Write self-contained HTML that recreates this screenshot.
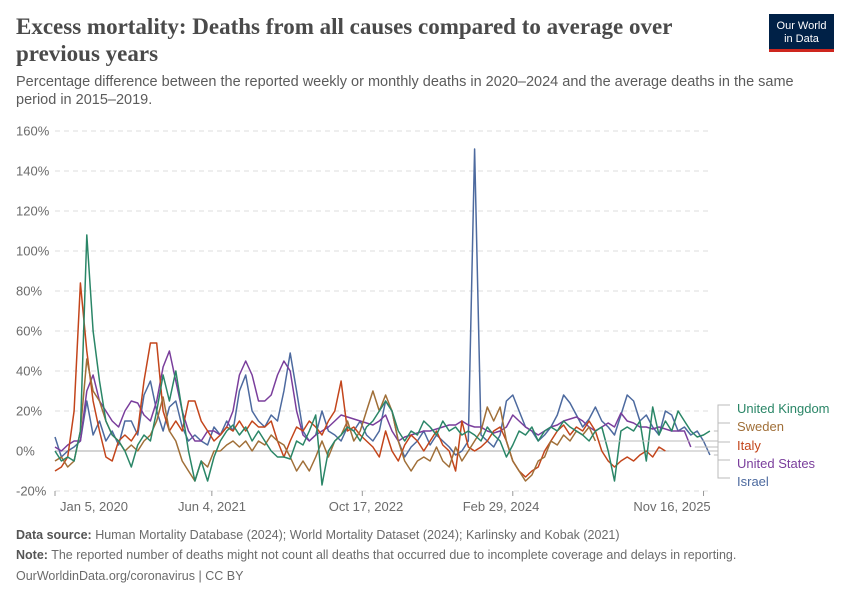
<!DOCTYPE html>
<html><head><meta charset="utf-8">
<style>
body{margin:0;background:#fff;width:850px;height:600px;overflow:hidden;font-family:"Liberation Sans",sans-serif;position:relative}
.title{position:absolute;left:16px;top:13px;width:700px;font-family:"Liberation Serif",serif;font-weight:bold;font-size:23px;line-height:27px;color:#4a4a4a}
.sub{position:absolute;left:16px;top:73px;width:810px;font-size:14.5px;line-height:18px;color:#5b5b5b}
.logo{position:absolute;left:769px;top:14px;width:65px;height:38px;background:#002147;border-bottom:3px solid #ce261e;box-sizing:border-box;color:#fff;font-size:11px;line-height:12.5px;text-align:center;padding-top:6px}
.foot{position:absolute;left:16px;font-size:12.5px;color:#6b6b6b}
.foot b{color:#555}
</style></head><body>
<div class="title">Excess mortality: Deaths from all causes compared to average over previous years</div>
<div class="sub">Percentage difference between the reported weekly or monthly deaths in 2020–2024 and the average deaths in the same period in 2015–2019.</div>
<div class="logo">Our World<br>in Data</div>
<svg id="chart" width="850" height="600" style="position:absolute;left:0;top:0"></svg>
<div class="foot" style="top:528px"><b>Data source:</b> Human Mortality Database (2024); World Mortality Dataset (2024); Karlinsky and Kobak (2021)</div>
<div class="foot" style="top:548px"><b>Note:</b> The reported number of deaths might not count all deaths that occurred due to incomplete coverage and delays in reporting.</div>
<div class="foot" style="top:569px">OurWorldinData.org/coronavirus | CC BY</div>
<script>
const yTicks=[-20,0,20,40,60,80,100,120,140,160];
const xTickLabels=["Jan 5, 2020","Jun 4, 2021","Oct 17, 2022","Feb 29, 2024","Nov 16, 2025"];
const xTickWeeks=[0,74,145,216,306];
const xLabelPos=[94,212,366,501,672];
const seriesNames=["United Kingdom","Sweden","Italy","United States","Israel"];
const ukValues=[0,-5,-3,-5,10,108,60,35,15,8, 5,0,-8,3,8,5,20,38,25,40, 20,0,-15,-5,-15,-3,5,10,13,8, 12,5,10,5,0,-3,-3,-4,5,3, 10,18,-17,0,5,8,12,10,5,12, 15,20,25,20,10,5,10,8,15,12, 8,15,10,12,8,10,8,5,12,8, 5,-3,3,10,8,12,5,10,12,10, 15,12,10,8,5,10,12,0,-15,10, 12,10,15,-5,22,8,15,10,20,15, 10,7,8,10];
const swedenValues=[-5,-3,-8,-5,10,46,30,25,15,8, 5,0,3,0,5,8,15,27,10,5, -5,-10,-15,-5,-8,0,0,3,5,2, 5,0,5,3,8,5,3,-3,-10,-5, -10,-3,5,-3,5,8,15,5,10,20, 30,20,28,20,5,-5,-10,-5,-3,-5, 2,-5,-8,2,-5,0,5,10,22,15, 22,5,-5,-10,-15,-12,-5,-3,5,3, 8,5,10,8,12,5];
const italyValues=[-10,-8,-3,20,84,50,25,10,-3,-5, 5,8,5,10,35,54,54,20,10,15, 10,25,25,15,10,5,8,12,10,15, 10,15,12,12,15,5,-3,5,12,10, 15,12,8,15,20,35,10,12,8,5, 2,-3,10,0,-5,3,8,5,0,5, 10,3,0,-10,15,2,0,2,5,10, 12,5,-5,-10,-13,-10,-8,0,5,10, 13,8,12,10,15,10,0,-5,-8,-5, -3,-5,-2,0,-3,2,0];
const usValues=[2,0,3,5,5,30,38,25,20,15, 12,20,25,24,18,15,25,42,50,35, 20,10,5,5,10,10,8,12,20,38, 45,38,25,25,28,38,45,40,20,8, 5,8,10,12,15,18,17,16,15,14, 13,15,18,10,5,7,8,9,10,10, 11,12,13,13,15,13,12,12,10,9, 10,12,18,15,12,10,8,10,12,13, 15,16,17,15,12,10,12,14,12,19, 15,14,12,12,11,12,11,10,10,10, 2];
const israelValues=[7,-3,0,2,5,25,8,15,5,10, 3,15,15,8,28,35,20,10,22,25, 12,5,8,5,3,12,8,15,10,30, 38,20,15,12,18,15,30,49,30,10, 5,8,20,10,8,5,12,10,15,8, 5,10,25,20,5,-3,2,5,10,3, 8,5,2,-2,0,5,151,8,5,2, 8,25,28,20,12,10,5,8,12,18, 28,24,18,12,16,22,15,12,8,18, 28,25,15,18,12,8,20,18,10,12, 8,10,5,-2];
const weekStep=3;
const colors=["#2a8667","#a06f38","#c3451b","#7a3e9c","#4d6a9f"];
const labelY=[409,427,446,464,482];

const NS="http://www.w3.org/2000/svg";
const svg=document.getElementById("chart");
const X0=55,X1=712,W0=0,W1=310;
const xs=w=>X0+(w-W0)/(W1-W0)*(X1-X0);
const ys=v=>451-v*2;
function mk(tag,attrs){const e=document.createElementNS(NS,tag);for(const k in attrs)e.setAttribute(k,attrs[k]);svg.appendChild(e);return e;}

yTicks.forEach(t=>{
  const l=mk("line",{x1:X0,x2:X1,y1:ys(t),y2:ys(t),stroke:t===0?"#a8a8a8":"#dddddd","stroke-width":1,"stroke-dasharray":t===0?"":"5,4"});
  
  
  const tx=mk("text",{x:16,y:ys(t)+4.5,"font-size":13,fill:"#6b6b6b","font-family":"Liberation Sans, sans-serif"});
  tx.textContent=t+"%";
  
  
});
xTickWeeks.forEach((w,i)=>{
  const tk=mk("line",{x1:xs(w),x2:xs(w),y1:491,y2:496,stroke:"#999"});
  
  
  const tx=mk("text",{x:xLabelPos[i],y:511,"font-size":13,fill:"#6b6b6b","text-anchor":"middle","font-family":"Liberation Sans, sans-serif"});
  tx.textContent=xTickLabels[i];
  
  
});
const allSeries=[ukValues,swedenValues,italyValues,usValues,israelValues];
const order=[4,3,2,1,0];
order.forEach(s=>{
  const vals=allSeries[s];
  const d=vals.map((v,i)=>(i?"L":"M")+xs(i*weekStep).toFixed(1)+","+ys(v).toFixed(1)).join("");
  const p=mk("path",{d:d,fill:"none",stroke:colors[s],"stroke-width":1.5,"stroke-linejoin":"round"});
  
  
});
allSeries.forEach((vals,s)=>{
  const last=vals.length-1;
  const ex=xs(last*weekStep), ey=ys(vals[last]);
  const c=mk("path",{d:`M${ex+4},${ey}H718V${labelY[s]-4}H730`,fill:"none",stroke:"#bbb","stroke-width":1});
  
  
  const tx=mk("text",{x:737,y:labelY[s]+4,"font-size":13,fill:colors[s],"font-family":"Liberation Sans, sans-serif"});
  tx.textContent=seriesNames[s];
  
  
});
</script>
</body></html>
